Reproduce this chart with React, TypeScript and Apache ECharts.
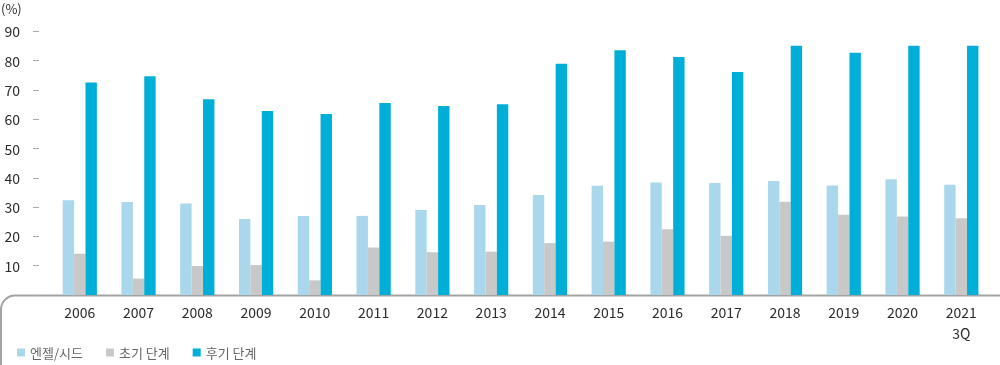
import React, { useEffect, useRef } from "react";
import * as echarts from "echarts";

const categories = ["2006", "2007", "2008", "2009", "2010", "2011", "2012", "2013", "2014", "2015", "2016", "2017", "2018", "2019", "2020", "2021\n3Q"];
const angelSeed = [32.3, 31.7, 31.2, 25.9, 27.0, 27.0, 29.0, 30.7, 34.1, 37.3, 38.4, 38.2, 38.9, 37.4, 39.5, 37.6];
const earlyStage = [14.1, 5.6, 9.9, 10.2, 5.0, 16.2, 14.6, 14.8, 17.7, 18.2, 22.4, 20.2, 31.8, 27.4, 26.8, 26.2];
const lateStage = [72.5, 74.7, 66.8, 62.8, 61.8, 65.5, 64.5, 65.1, 78.9, 83.5, 81.2, 76.1, 85.1, 82.7, 85.1, 85.1];
const seriesNames = ["엔젤/시드", "초기 단계", "후기 단계"];
const colors = ["#a9d8ec", "#c8c8c8", "#00afd7"];

const FONT = '"Noto Sans CJK KR", "Noto Sans", sans-serif';

export default function App() {
  const ref = useRef<HTMLDivElement>(null);
  useEffect(() => {
    if (!ref.current) return;
    const chart = echarts.init(ref.current, null, { renderer: "svg" });
    const values = [angelSeed, earlyStage, lateStage];
    chart.setOption({
      animation: false,
      color: colors,
      textStyle: { fontFamily: FONT },
      grid: { left: 50.4, right: 9.3, top: 31.3, bottom: 70, containLabel: false },
      legend: {
        left: 12,
        top: 341,
        icon: "rect",
        itemWidth: 8,
        itemHeight: 8,
        itemGap: 23,
        textStyle: { fontFamily: FONT, fontSize: 13, color: "#666666" },
        data: seriesNames,
      },
      xAxis: {
        type: "category",
        data: categories,
        axisLine: { show: false },
        axisTick: { show: false },
        axisLabel: { fontFamily: FONT, fontSize: 14, color: "#2b2b2b", margin: 6, lineHeight: 21 },
      },
      yAxis: {
        type: "value",
        min: 0,
        max: 90,
        interval: 10,
        offset: 11.4,
        axisLine: { show: false },
        axisTick: { show: true, length: 6, lineStyle: { color: "#a8a8a8", width: 1 } },
        splitLine: { show: false },
        axisLabel: {
          fontFamily: FONT,
          fontSize: 14,
          color: "#2b2b2b",
          margin: 19,
          formatter: (v: number) => (v === 0 ? "" : String(v)),
        },
      },
      graphic: [
        {
          type: "rect",
          silent: true,
          shape: { x: 1, y: 295.5, width: 1200, height: 200, r: [14, 0, 0, 0] },
          style: { fill: "none", stroke: "#a3a3a3", lineWidth: 2 },
        },
        {
          type: "text",
          x: 1,
          y: 2,
          style: { text: "(%)", fontFamily: FONT, fontSize: 13, fill: "#2b2b2b", verticalAlign: "top" },
        },
      ],
      series: seriesNames.map((name, i) => ({
        name,
        type: "bar",
        data: values[i],
        barWidth: 11.4,
        barGap: "0%",
        itemStyle: { color: colors[i] },
      })),
    });
    return () => chart.dispose();
  }, []);
  return <div ref={ref} style={{ position: "fixed", left: 0, top: 0, width: 1000, height: 365 }} />;
}
